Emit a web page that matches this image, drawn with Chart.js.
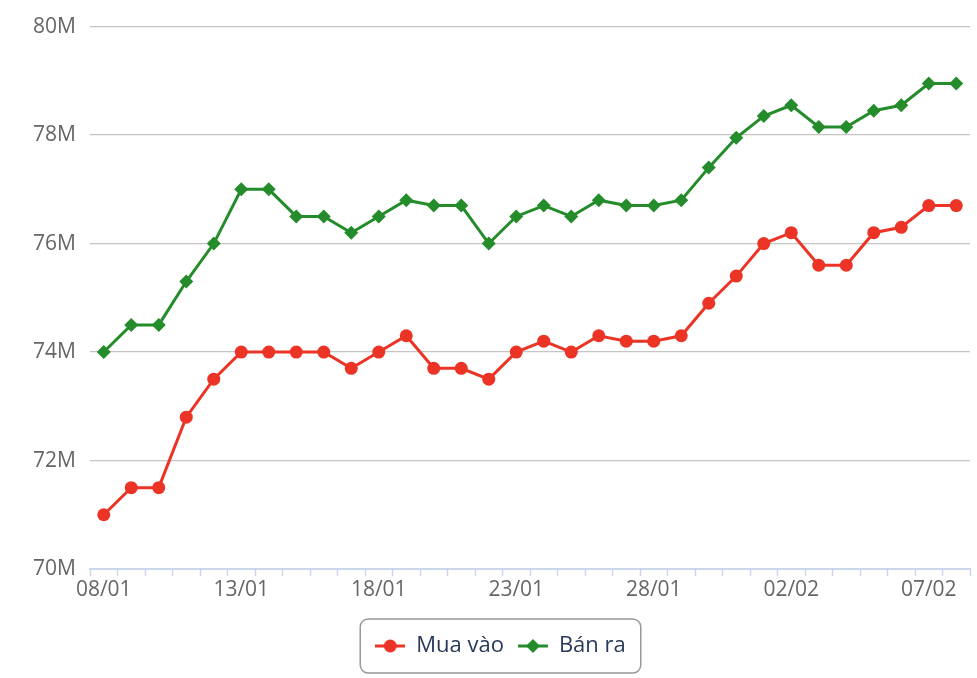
<!DOCTYPE html>
<html>
<head>
<meta charset="utf-8">
<script src="https://cdn.jsdelivr.net/npm/chart.js@4/dist/chart.umd.min.js"></script>
<style>
  html, body { margin: 0; padding: 0; background: #ffffff; }
  #wrap { width: 977px; height: 678px; position: relative; }
</style>
</head>
<body>
<div id="wrap"><canvas id="c" width="977" height="678"></canvas></div>
<script>
const labels = [
  '08/01','09/01','10/01','11/01','12/01','13/01','14/01','15/01','16/01','17/01',
  '18/01','19/01','20/01','21/01','22/01','23/01','24/01','25/01','26/01','27/01',
  '28/01','29/01','30/01','31/01','01/02','02/02','03/02','04/02','05/02','06/02',
  '07/02','08/02'
];
const muaVao = [
  71.0, 71.5, 71.5, 72.8, 73.5, 74.0, 74.0, 74.0, 74.0, 73.7,
  74.0, 74.3, 73.7, 73.7, 73.5, 74.0, 74.2, 74.0, 74.3, 74.2,
  74.2, 74.3, 74.9, 75.4, 76.0, 76.2, 75.6, 75.6, 76.2, 76.3,
  76.7, 76.7
];
const banRa = [
  74.0, 74.5, 74.5, 75.3, 76.0, 77.0, 77.0, 76.5, 76.5, 76.2,
  76.5, 76.8, 76.7, 76.7, 76.0, 76.5, 76.7, 76.5, 76.8, 76.7,
  76.7, 76.8, 77.4, 77.95, 78.35, 78.55, 78.15, 78.15, 78.45, 78.55,
  78.95, 78.95
];
const seriesNames = ['Mua vào', 'Bán ra'];
const yTicks = [70, 72, 74, 76, 78, 80];

const RED = '#ec3426';
const GREEN = '#248c2a';
const LEGEND_FONT_SIZE = 22;
const LEGEND_FONT = LEGEND_FONT_SIZE + 'px "Open Sans", sans-serif';
const LEGEND_PAD = 14;
const SYM_W = 30;

const mctx = document.createElement('canvas').getContext('2d');
mctx.font = LEGEND_FONT;
const itemW = seriesNames.map(n => SYM_W + LEGEND_FONT_SIZE / 2 + mctx.measureText(n).width);
const contentW = itemW[0] + LEGEND_PAD + itemW[1];

function drawMarker(g, cx, cy, color, shape) {
  g.strokeStyle = color; g.lineWidth = 3;
  g.beginPath(); g.moveTo(cx - 15, cy); g.lineTo(cx + 15, cy); g.stroke();
  g.fillStyle = color;
  g.beginPath();
  if (shape === 'circle') {
    g.arc(cx, cy, 6.5, 0, Math.PI * 2);
  } else {
    g.moveTo(cx, cy - 7); g.lineTo(cx + 7, cy); g.lineTo(cx, cy + 7); g.lineTo(cx - 7, cy); g.closePath();
  }
  g.fill();
}

function roundedRectPath(ctx, x, y, w, h, r) {
  ctx.beginPath();
  ctx.moveTo(x + r, y);
  ctx.lineTo(x + w - r, y);
  ctx.arcTo(x + w, y, x + w, y + r, r);
  ctx.lineTo(x + w, y + h - r);
  ctx.arcTo(x + w, y + h, x + w - r, y + h, r);
  ctx.lineTo(x + r, y + h);
  ctx.arcTo(x, y + h, x, y + h - r, r);
  ctx.lineTo(x, y + r);
  ctx.arcTo(x, y, x + r, y, r);
  ctx.closePath();
}

// first legend symbol carrying a frame round the legend (fallback)
function framedSymbol() {
  const half = Math.ceil(Math.max(30, contentW)) + 4;
  const c = document.createElement('canvas');
  c.width = half * 2; c.height = 64;
  const g = c.getContext('2d');
  const cx = half, cy = 32;
  g.strokeStyle = '#999999';
  g.lineWidth = 1.5;
  roundedRectPath(g, cx - 30, cy - 26, 30 + contentW, 46, 8);
  g.stroke();
  drawMarker(g, cx, cy, RED, 'circle');
  return c;
}
function plainSymbol(color, shape) {
  const c = document.createElement('canvas');
  c.width = 30; c.height = 16;
  drawMarker(c.getContext('2d'), 15, 8, color, shape);
  return c;
}
const symRedFramed = framedSymbol();
const symRed = plainSymbol(RED, 'circle');
const symGreen = plainSymbol(GREEN, 'diamond');

// full-size frame when plugins are available
Chart.register({
  id: 'legendFrame',
  beforeDraw(chart) {
    const lg = chart.legend;
    if (lg && lg.legendItems && lg.legendItems[0]) lg.legendItems[0].pointStyle = symRed;
  },
  afterDatasetsDraw(chart) {
    const lg = chart.legend;
    const hb = (lg && lg.legendHitBoxes) || [];
    let l = Infinity, r = -Infinity, t = Infinity, b = -Infinity;
    hb.forEach(h => {
      l = Math.min(l, h.left); r = Math.max(r, h.left + h.width);
      t = Math.min(t, h.top); b = Math.max(b, h.top + h.height);
    });
    if (!isFinite(l) || !isFinite(t)) return;
    const cy = (t + b) / 2;
    const ctx = chart.ctx;
    ctx.save();
    ctx.strokeStyle = '#999999';
    ctx.lineWidth = 1.5;
    roundedRectPath(ctx, l - 15, cy - 27, (r - l) + 30, 54, 8);
    ctx.stroke();
    ctx.restore();
  }
});

const chart = new Chart(document.getElementById('c'), {
  type: 'line',
  data: {
    labels: labels,
    datasets: [
      {
        label: seriesNames[0],
        data: muaVao,
        borderColor: RED,
        backgroundColor: RED,
        borderWidth: 3,
        pointStyle: 'circle',
        pointRadius: 6.5,
        pointBorderWidth: 0,
        pointBackgroundColor: RED,
        tension: 0
      },
      {
        label: seriesNames[1],
        data: banRa,
        borderColor: GREEN,
        backgroundColor: GREEN,
        borderWidth: 3,
        pointStyle: 'rectRot',
        pointRadius: 7,
        pointBorderWidth: 0,
        pointBackgroundColor: GREEN,
        tension: 0
      }
    ]
  },
  options: {
    responsive: false,
    animation: false,
    devicePixelRatio: 1,
    layout: { padding: { top: 26, right: 7, left: 31, bottom: 11 } },
    plugins: {
      tooltip: { enabled: false },
      legend: {
        position: 'bottom',
        labels: {
          usePointStyle: true,
          pointStyleWidth: SYM_W,
          padding: LEGEND_PAD,
          color: '#263a5a',
          font: { family: '"Open Sans", sans-serif', size: LEGEND_FONT_SIZE },
          generateLabels(chart) {
            return chart.data.datasets.map((ds, i) => ({
              text: ds.label,
              pointStyle: i === 0 ? symRedFramed : symGreen,
              fillStyle: ds.borderColor,
              strokeStyle: ds.borderColor,
              lineWidth: 0,
              fontColor: '#263a5a',
              hidden: false,
              datasetIndex: i
            }));
          }
        }
      }
    },
    scales: {
      x: {
        type: 'category',
        offset: true,
        afterFit(scale) { scale.height = 52; },
        grid: {
          offset: true,
          drawOnChartArea: false,
          drawTicks: true,
          tickLength: 7,
          tickColor: '#ccd6eb',
          tickWidth: 1.5
        },
        border: { display: true, color: '#ccd6eb', width: 2 },
        ticks: {
          autoSkip: false,
          maxRotation: 0,
          padding: 1,
          color: '#666666',
          font: { family: '"Open Sans", sans-serif', size: 21 },
          callback(value, index) {
            return index % 5 === 0 ? labels[index] : '';
          }
        }
      },
      y: {
        min: yTicks[0],
        max: yTicks[yTicks.length - 1],
        afterFit(scale) { scale.width = 59; },
        afterBuildTicks(scale) { scale.ticks = yTicks.map(v => ({ value: v })); },
        grid: { color: '#c4c4c4', lineWidth: 1.3, drawTicks: false },
        border: { display: false },
        ticks: {
          padding: 14,
          color: '#666666',
          font: { family: '"Open Sans", sans-serif', size: 21 },
          callback(value) { return value + 'M'; }
        }
      }
    }
  }
});
</script>
</body>
</html>
